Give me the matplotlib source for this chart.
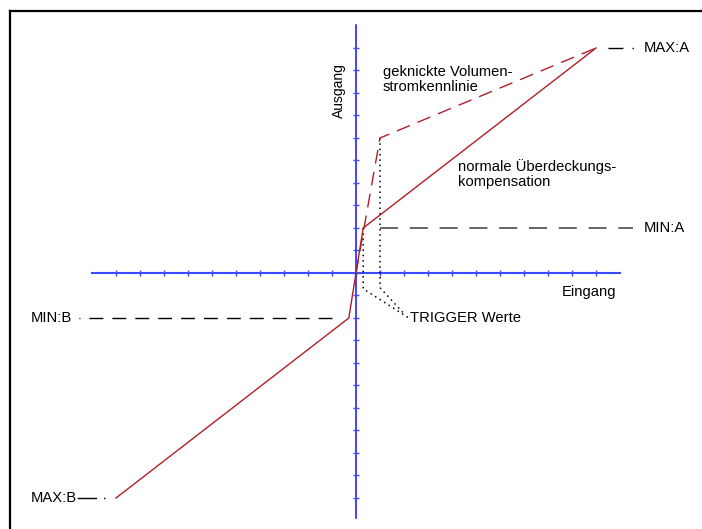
import matplotlib
matplotlib.use("Agg")
import numpy as np
import matplotlib.pyplot as plt

plt.rcParams['font.family'] = ['Liberation Sans', 'DejaVu Sans']

# Kennlinien (schematic units: one tick = 1)
normal_x = [-10, -0.3, 0.3, 10]
normal_y = [-10, -2, 2, 10]
knick_x = [0, 1, 10]
knick_y = [0, 6, 10]

# trigger marker lines
trig1_x = [0.3, 0.3, 2.2]
trig1_y = [2, -0.7, -2.0]
trig2_x = [1, 1, 1.95]
trig2_y = [6, -0.65, -1.75]

# limit lines to labels
min_a_x = [1, 11.55];    min_a_y = [2, 2]
min_b_x = [-1, -11.55];  min_b_y = [-2, -2]
max_a_x = [10, 11.6];    max_a_y = [10, 10]
max_b_x = [-10, -11.62]; max_b_y = [-10, -10]

ticks = np.arange(-10, 11)
axis_len = 11

red = '#b01e28'

fig = plt.figure(figsize=(7.02, 5.29), dpi=100)
ax = fig.add_axes([10/702, 0, 692/702, 518/529])
ax.set_xlim((10-356)/24, (702-356)/24)
ax.set_ylim((273-529)/22.5, (273-11)/22.5)
ax.set_xticks([]); ax.set_yticks([])
for s in ['right', 'bottom']:
    ax.spines[s].set_visible(False)
for s in ['left', 'top']:
    ax.spines[s].set_linewidth(1.6)
    ax.spines[s].set_color('black')

# blue coordinate axes with ticks
ax.plot([-axis_len, axis_len], [0, 0], color='#3b4cff', lw=1.5, zorder=2)
ax.plot([0, 0], [-10.9, axis_len], color='#1010ff', lw=1.1, zorder=2)
ax.plot(ticks, np.zeros_like(ticks), ls='none', marker='|', ms=5, mew=1.0, color='#3b4cff', zorder=2)
ax.plot(np.zeros_like(ticks), ticks, ls='none', marker='_', ms=5, mew=1.0, color='#3b4cff', zorder=2)

# characteristic curves
ax.plot(normal_x, normal_y, color=red, lw=1.0, zorder=4)
ax.plot(knick_x, knick_y, color=red, lw=1.0, ls=(0, (10, 6)), zorder=4)

# trigger dotted lines
ax.plot(trig1_x, trig1_y, color='black', lw=1.1, ls=(0, (1, 2.5)), zorder=3)
ax.plot(trig2_x, trig2_y, color='black', lw=1.1, ls=(0, (1, 2.5)), zorder=3)

# limit lines
ax.plot(min_a_x, min_a_y, color='0.35', lw=1.3, ls=(0, (10, 6.5)), zorder=3)
ax.plot(min_b_x, min_b_y, color='black', lw=1.0, ls=(0, (10, 6.5)), zorder=3)
ax.plot(max_a_x, max_a_y, color='black', lw=1.0, ls=(18.3, (10.8, 6.5, 1, 8.6)), zorder=3)
ax.plot(max_b_x, max_b_y, color='black', lw=1.0, ls=(14, (14, 8, 1, 5)), zorder=3)

fs = 10.6
ax.text(12.0, 10, 'MAX:A', fontsize=fs, va='center', ha='left')
ax.text(12.0, 2, 'MIN:A', fontsize=fs, va='center', ha='left')
ax.text(-13.54, -2, 'MIN:B', fontsize=fs, va='center', ha='left')
ax.text(-13.54, -10, 'MAX:B', fontsize=fs, va='center', ha='left')
ax.text(1.125, 8.6, 'geknickte Volumen-\nstromkennlinie', fontsize=fs, va='center', ha='left', linespacing=1.05)
ax.text(4.25, 4.4, 'normale Überdeckungs-\nkompensation', fontsize=fs, va='center', ha='left', linespacing=1.05)
ax.text(-0.71, 8.1, 'Ausgang', fontsize=10, va='center', ha='center', rotation=90)
ax.text(8.58, -0.84, 'Eingang', fontsize=fs, va='center', ha='left')
ax.text(2.25, -2.0, 'TRIGGER Werte', fontsize=fs, va='center', ha='left')

fig.savefig('out.png', dpi=100)
